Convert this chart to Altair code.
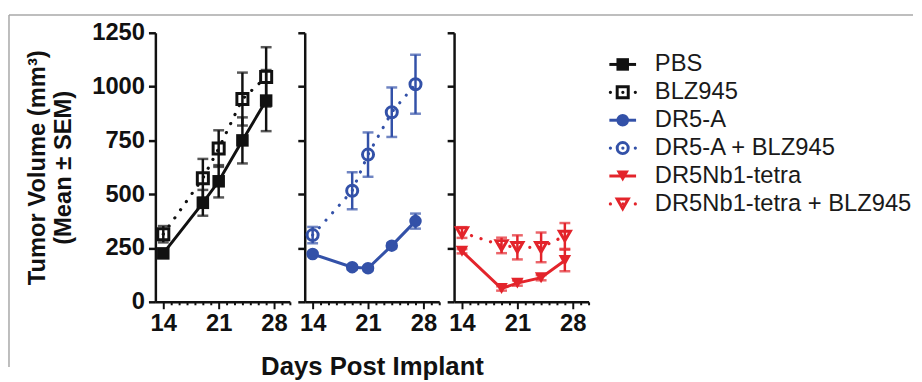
import altair as alt
import pandas as pd

days = [14, 19, 21, 24, 27]

series_names = ["PBS", "BLZ945", "DR5-A", "DR5-A + BLZ945",
                "DR5Nb1-tetra", "DR5Nb1-tetra + BLZ945"]
series_kind = ["filled", "open", "filled", "open", "filled", "open"]
series_panel = [1, 1, 2, 2, 3, 3]
series_colors = ["#111111", "#111111", "#3351a8", "#3351a8", "#e3242b", "#e3242b"]
series_shapes = ["square", "square", "circle", "circle", "triangle-down", "triangle-down"]

pbs_mean = [225, 460, 560, 750, 935]
pbs_sem = [12, 60, 75, 107, 142]
blz_mean = [314, 574, 712, 942, 1045]
blz_sem = [38, 90, 85, 123, 138]
dr5a_mean = [222, 161, 156, 261, 375]
dr5a_sem = [10, 10, 10, 12, 35]
dr5a_blz_mean = [310, 516, 684, 881, 1011]
dr5a_blz_sem = [38, 86, 103, 115, 137]
nb_mean = [235, 62, 87, 112, 192]
nb_sem = [10, 10, 12, 12, 50]
nb_blz_mean = [322, 262, 253, 253, 306]
nb_blz_sem = [25, 36, 56, 69, 60]

y_ticks = [0, 250, 500, 750, 1000, 1250]
x_ticks = list(range(14, 31))

means = [pbs_mean, blz_mean, dr5a_mean, dr5a_blz_mean, nb_mean, nb_blz_mean]
sems = [pbs_sem, blz_sem, dr5a_sem, dr5a_blz_sem, nb_sem, nb_blz_sem]

rows = []
for name, kind, panel, m_list, s_list in zip(series_names, series_kind, series_panel, means, sems):
    for d, m, s in zip(days, m_list, s_list):
        rows.append(dict(series=name, kind=kind, panel=panel, day=d, mean=m, lo=m - s, hi=m + s))
df = pd.DataFrame(rows)

color_scale = alt.Scale(domain=series_names, range=series_colors)
shape_scale = alt.Scale(domain=series_names, range=series_shapes)
x_scale = alt.Scale(domain=[13, 30], nice=False, zero=False)
y_scale = alt.Scale(domain=[0, 1250], nice=False)

FONT = "Liberation Sans"
NOVIEW = alt.ViewBackground(stroke=None)


def x_axis(title):
    return alt.Axis(
        values=x_ticks,
        tickSize={"condition": {"test": "datum.value % 7 === 0", "value": 7}, "value": 3},
        labelExpr="datum.value % 7 === 0 ? datum.label : ''",
        labelFontSize=24, labelFontWeight="bold", labelColor="#111111", labelPadding=3,
        labelFont=FONT,
        tickColor="#111111", tickWidth=2, domainColor="#111111", domainWidth=2.5,
        grid=False, title=title, titleFontSize=26, titleFontWeight="bold",
        titleColor="#111111", titlePadding=18, titleFont=FONT,
    )


def y_axis(show):
    if show:
        return alt.Axis(
            values=y_ticks, format="d", labels=True, labelFontSize=24, labelFontWeight="bold",
            labelColor="#111111", labelPadding=4, labelFont=FONT,
            tickSize=7, tickWidth=2.5, tickColor="#111111",
            domainColor="#111111", domainWidth=2.5, grid=False,
            title=["Tumor Volume (mm³)", "(Mean ± SEM)"], titleFontSize=24,
            titleFontWeight="bold", titleColor="#111111", titlePadding=16,
            titleLineHeight=27, titleFont=FONT,
        )
    return alt.Axis(
        values=y_ticks, labels=False, tickSize=7, tickWidth=2.5, tickColor="#111111",
        domainColor="#111111", domainWidth=2.5, grid=False, title=None,
    )


def panel_chart(panel_id, show_y, xtitle, with_frame=False):
    base = alt.Chart(df).transform_filter(alt.datum.panel == panel_id)
    xa = x_axis(xtitle)
    ya = y_axis(show_y)
    color = alt.Color("series:N", scale=color_scale, legend=None)
    shape = alt.Shape("series:N", scale=shape_scale, legend=None)

    def X():
        return alt.X("day:Q", scale=x_scale, axis=xa)

    def Y(field):
        return alt.Y(field, scale=y_scale, axis=ya)

    line_solid = base.transform_filter(alt.datum.kind == "filled").mark_line(
        strokeWidth=3).encode(x=X(), y=Y("mean:Q"), color=color)
    line_dot = base.transform_filter(alt.datum.kind == "open").mark_line(
        strokeWidth=3.2, strokeDash=[0.1, 10], strokeCap="round").encode(
        x=X(), y=Y("mean:Q"), color=color)
    err = base.mark_rule(strokeWidth=2.5).encode(
        x=X(), y=Y("lo:Q"), y2="hi:Q", color=color)
    cap_lo = base.mark_tick(orient="horizontal", size=11, thickness=2.5).encode(
        x=X(), y=Y("lo:Q"), color=color)
    cap_hi = base.mark_tick(orient="horizontal", size=11, thickness=2.5).encode(
        x=X(), y=Y("hi:Q"), color=color)
    pts_f = base.transform_filter(alt.datum.kind == "filled").mark_point(
        filled=True, size=160, opacity=1).encode(
        x=X(), y=Y("mean:Q"), color=color, shape=shape)
    pts_o = base.transform_filter(alt.datum.kind == "open").mark_point(
        filled=False, size=125, strokeWidth=3, opacity=1, fill="transparent").encode(
        x=X(), y=Y("mean:Q"), color=color, shape=shape)

    layers = [line_solid, line_dot, err, cap_lo, cap_hi, pts_f, pts_o]
    if with_frame:
        frame = alt.Chart(pd.DataFrame({"f": [0]})).mark_rule(color="#a8a8a8", strokeWidth=1.5)
        layers.append(frame.encode(x=alt.value(-148), x2=alt.value(766), y=alt.value(-18)))
        layers.append(frame.encode(x=alt.value(-148), y=alt.value(-18), y2=alt.value(338)))
    return alt.layer(*layers).properties(width=136, height=272, view=NOVIEW)


p1 = panel_chart(1, True, None, with_frame=True)
p2 = panel_chart(2, False, "Days Post Implant")
p3 = panel_chart(3, False, None)

leg_df = pd.DataFrame({"series": series_names, "kind": series_kind})
leg_base = alt.Chart(leg_df)
ly = alt.Y("series:N", scale=alt.Scale(type="point", domain=series_names, range=[32, 173], padding=0),
           axis=None)
lcolor = alt.Color("series:N", scale=color_scale, legend=None)
lshape = alt.Shape("series:N", scale=shape_scale, legend=None)

leg_rule_f = leg_base.transform_filter(alt.datum.kind == "filled").mark_rule(strokeWidth=3).encode(
    x=alt.value(6), x2=alt.value(33), y=ly, color=lcolor)
leg_rule_o = leg_base.transform_filter(alt.datum.kind == "open").mark_rule(
    strokeWidth=3.2, strokeDash=[0.1, 12.5], strokeCap="round").encode(
    x=alt.value(7), x2=alt.value(33), y=ly, color=lcolor)
leg_pt_f = leg_base.transform_filter(alt.datum.kind == "filled").mark_point(
    filled=True, size=160, opacity=1).encode(x=alt.value(19.5), y=ly, color=lcolor, shape=lshape)
leg_pt_o = leg_base.transform_filter(alt.datum.kind == "open").mark_point(
    filled=False, size=125, strokeWidth=3, opacity=1, fill="transparent").encode(
    x=alt.value(19.5), y=ly, color=lcolor, shape=lshape)
leg_text = leg_base.mark_text(align="left", baseline="middle", fontSize=24, font=FONT,
                              color="#1a1a1a").encode(x=alt.value(52), y=ly, text="series:N")

legend = alt.layer(leg_rule_f, leg_rule_o, leg_pt_f, leg_pt_o, leg_text).properties(
    width=300, height=272, view=NOVIEW)

chart = alt.hconcat(p1, p2, p3, legend, spacing=15, bounds="flush").properties(
    padding={"left": 0, "top": 4, "right": 0, "bottom": 0}
).configure(font=FONT).configure_view(stroke=None)

chart.save("out.html", embed_options={"renderer": "svg", "actions": False})
